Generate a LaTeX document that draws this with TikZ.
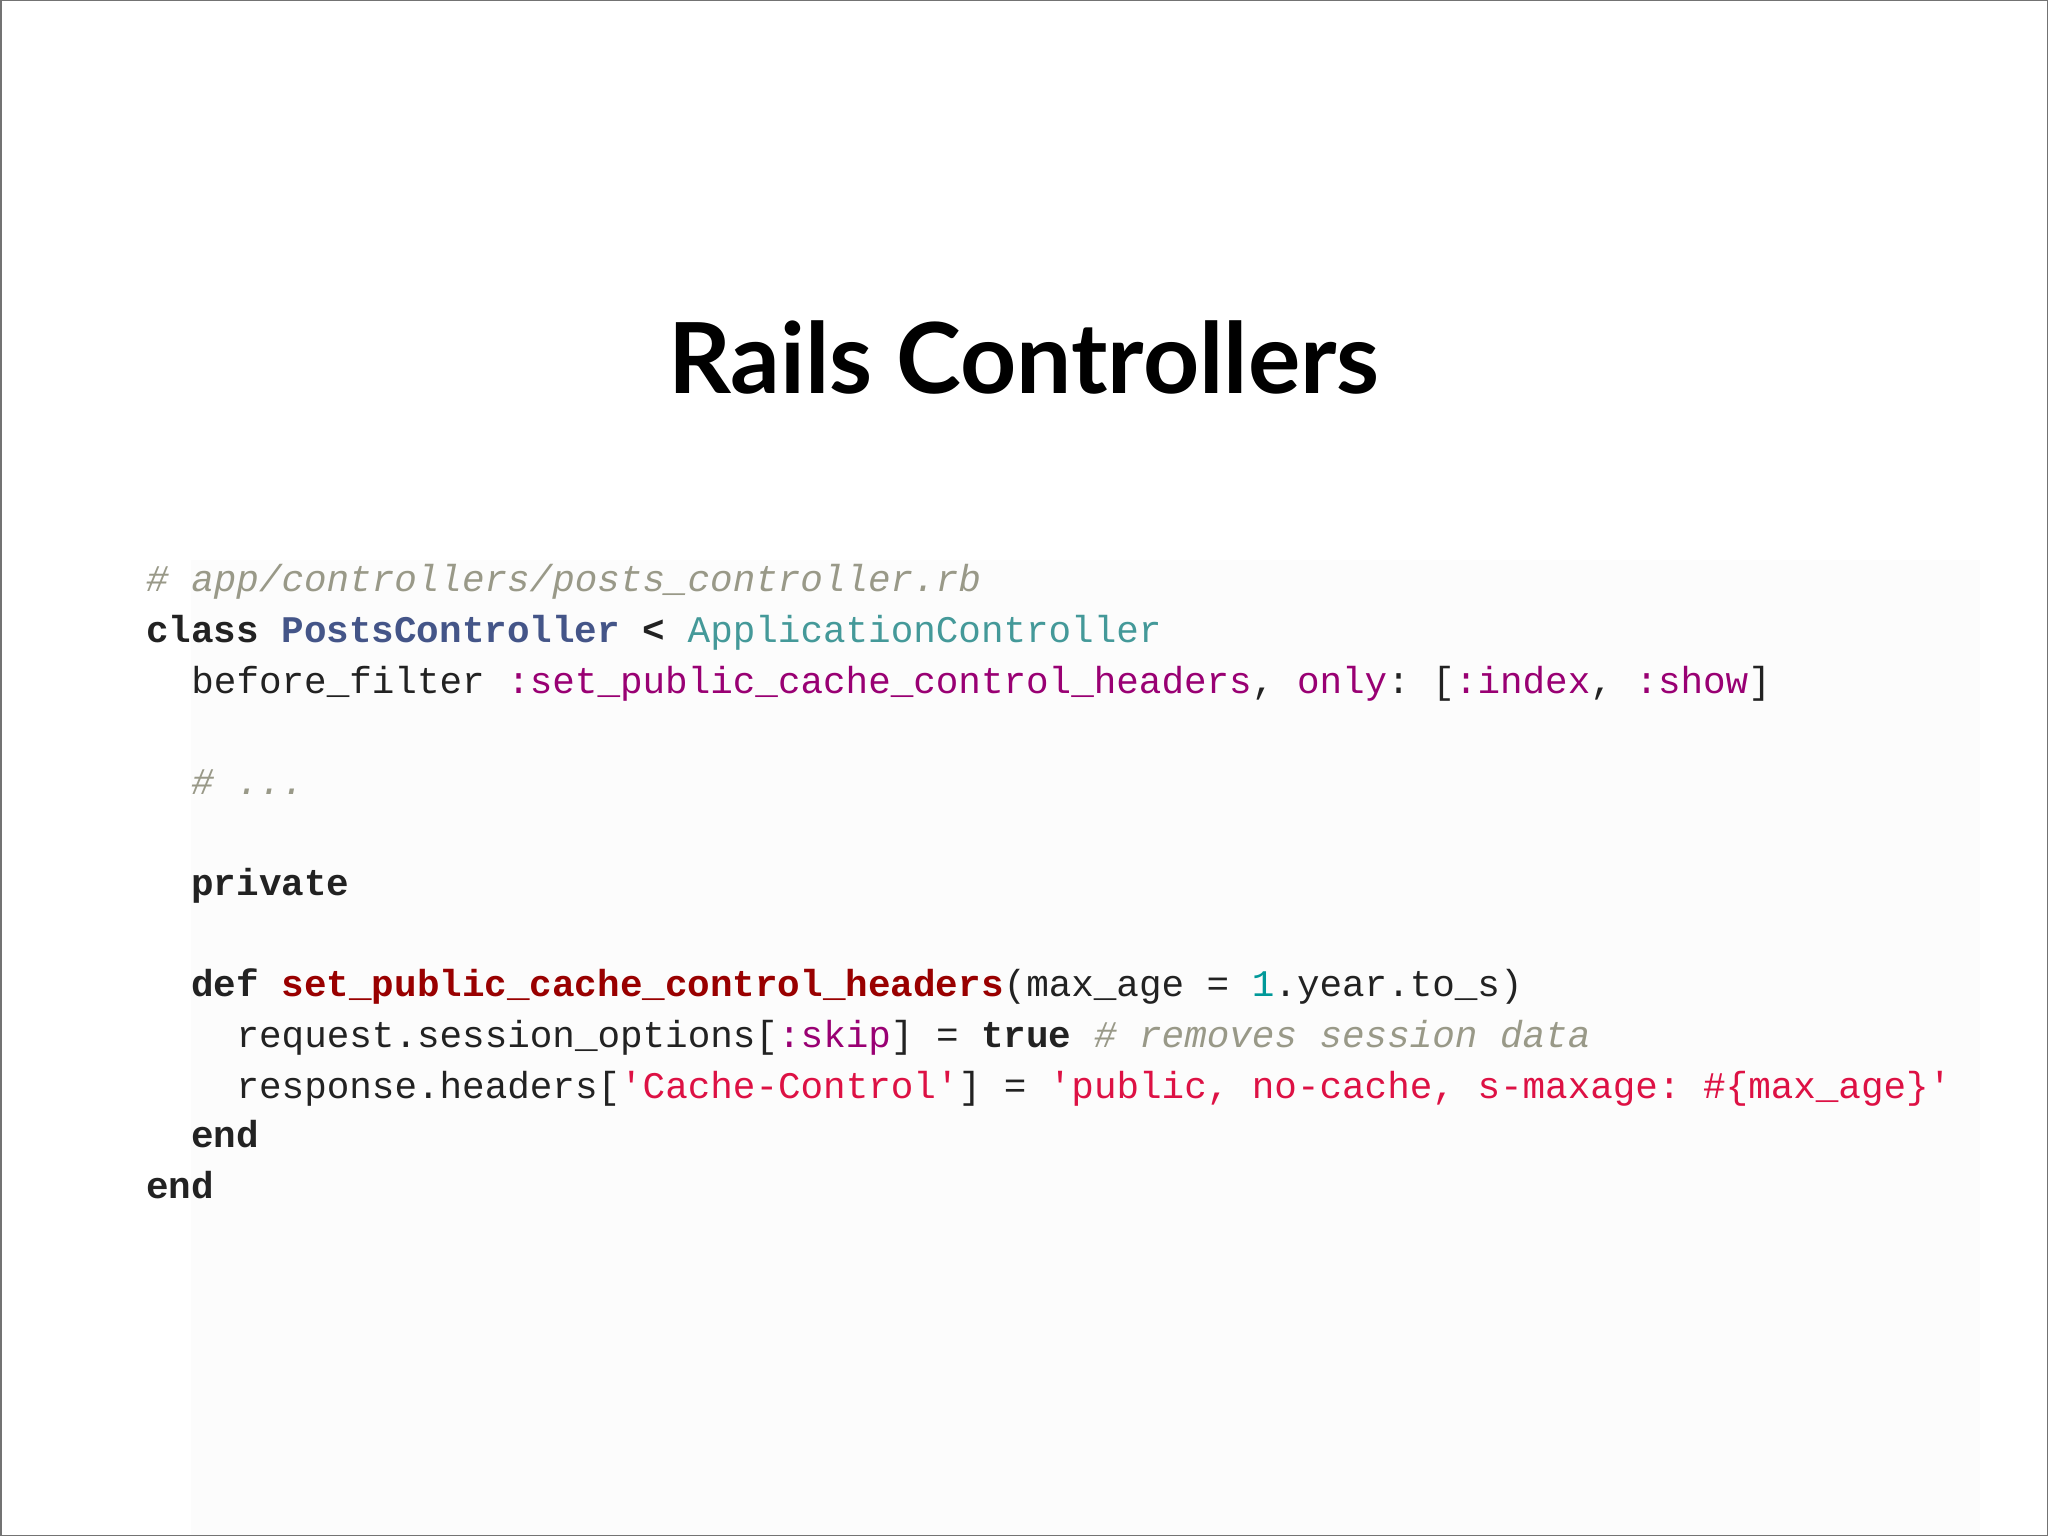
\documentclass[tikz,border=0pt]{standalone}
\usepackage{fontspec}
\setmainfont{Lato}
\setmonofont{Liberation Mono}
\definecolor{cmt}{HTML}{999988}
\definecolor{cls}{HTML}{445588}
\definecolor{teal}{HTML}{449999}
\definecolor{sym}{HTML}{990073}
\definecolor{fn}{HTML}{990000}
\definecolor{str}{HTML}{DD1144}
\definecolor{num}{HTML}{009999}
\definecolor{txt}{HTML}{222222}
\newcommand{\cm}[1]{{\color{cmt}\itshape #1}}
\newcommand{\kw}[1]{{\bfseries #1}}
\newcommand{\sy}[1]{{\color{sym}#1}}
\newcommand{\st}[1]{{\color{str}#1}}
\begin{document}
\begin{tikzpicture}[x=1pt,y=-1pt,
  code/.style={anchor=base west,inner sep=0pt,font=\ttfamily\fontsize{37.6}{40}\selectfont,text=txt}]
\useasboundingbox (0,0) rectangle (2048,1536);
\fill[white] (0,0) rectangle (2048,1536);
\fill[black!1] (191,560) rectangle (1980,1536);
\draw[black!55,line width=1.5pt] (0.75,0.75) rectangle (2047.25,1535.25);
\node[inner sep=0pt,font=\bfseries\fontsize{98}{104}\selectfont] (title) at (1024,357) {Rails Controllers};
\node[code] (l1) at (146,591) {\cm{\# app/controllers/posts\_controller.rb}};
\node[code] (l2) at (146,642) {\kw{class} \kw{\color{cls}PostsController} \kw{<} {\color{teal}ApplicationController}};
\node[code] (l3) at (191.2,693) {before\_filter \sy{:set\_public\_cache\_control\_headers}, \sy{only}: [\sy{:index}, \sy{:show}]};
\node[code] (l4) at (191.2,794) {\cm{\# ...}};
\node[code] (l5) at (191.2,895) {\kw{private}};
\node[code] (l6) at (191.2,996) {\kw{def} \kw{\color{fn}set\_public\_cache\_control\_headers}(max\_age = {\color{num}1}.year.to\_s)};
\node[code] (l7) at (236.4,1047) {request.session\_options[\sy{:skip}] = \kw{true} \cm{\# removes session data}};
\node[code] (l8) at (236.4,1098) {response.headers[\st{'Cache-Control'}] = \st{'public, no-cache, s-maxage: \#\{max\_age\}'}};
\node[code] (l9) at (191.2,1147) {\kw{end}};
\node[code] (l10) at (146,1198) {\kw{end}};
\end{tikzpicture}
\end{document}
